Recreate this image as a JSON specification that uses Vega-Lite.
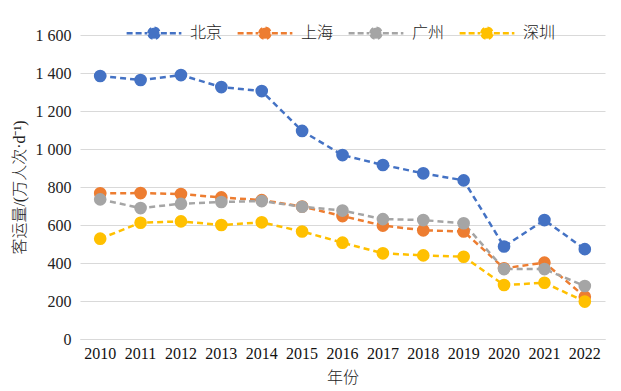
{
  "$schema": "https://vega.github.io/schema/vega-lite/v6.json",
  "width": 525,
  "height": 304,
  "autosize": "none",
  "padding": {"left": 80, "top": 35, "right": 16, "bottom": 52},
  "background": "white",
  "config": {"view": {"stroke": null}},
  "data": {
    "values": [
      {"year": "2010", "city": "北京", "v": 1384}, {"year": "2011", "city": "北京", "v": 1363}, {"year": "2012", "city": "北京", "v": 1389},
      {"year": "2013", "city": "北京", "v": 1326}, {"year": "2014", "city": "北京", "v": 1305}, {"year": "2015", "city": "北京", "v": 1095},
      {"year": "2016", "city": "北京", "v": 968}, {"year": "2017", "city": "北京", "v": 916}, {"year": "2018", "city": "北京", "v": 872},
      {"year": "2019", "city": "北京", "v": 835}, {"year": "2020", "city": "北京", "v": 487}, {"year": "2021", "city": "北京", "v": 626},
      {"year": "2022", "city": "北京", "v": 473},
      {"year": "2010", "city": "上海", "v": 767}, {"year": "2011", "city": "上海", "v": 768}, {"year": "2012", "city": "上海", "v": 763},
      {"year": "2013", "city": "上海", "v": 745}, {"year": "2014", "city": "上海", "v": 731}, {"year": "2015", "city": "上海", "v": 697},
      {"year": "2016", "city": "上海", "v": 647}, {"year": "2017", "city": "上海", "v": 597}, {"year": "2018", "city": "上海", "v": 572},
      {"year": "2019", "city": "上海", "v": 566}, {"year": "2020", "city": "上海", "v": 372}, {"year": "2021", "city": "上海", "v": 402},
      {"year": "2022", "city": "上海", "v": 223},
      {"year": "2010", "city": "广州", "v": 735}, {"year": "2011", "city": "广州", "v": 689}, {"year": "2012", "city": "广州", "v": 712},
      {"year": "2013", "city": "广州", "v": 721}, {"year": "2014", "city": "广州", "v": 726}, {"year": "2015", "city": "广州", "v": 696},
      {"year": "2016", "city": "广州", "v": 676}, {"year": "2017", "city": "广州", "v": 631}, {"year": "2018", "city": "广州", "v": 626},
      {"year": "2019", "city": "广州", "v": 609}, {"year": "2020", "city": "广州", "v": 368}, {"year": "2021", "city": "广州", "v": 368},
      {"year": "2022", "city": "广州", "v": 279},
      {"year": "2010", "city": "深圳", "v": 528}, {"year": "2011", "city": "深圳", "v": 612}, {"year": "2012", "city": "深圳", "v": 619},
      {"year": "2013", "city": "深圳", "v": 600}, {"year": "2014", "city": "深圳", "v": 614}, {"year": "2015", "city": "深圳", "v": 566},
      {"year": "2016", "city": "深圳", "v": 507}, {"year": "2017", "city": "深圳", "v": 451}, {"year": "2018", "city": "深圳", "v": 440},
      {"year": "2019", "city": "深圳", "v": 433}, {"year": "2020", "city": "深圳", "v": 284}, {"year": "2021", "city": "深圳", "v": 296},
      {"year": "2022", "city": "深圳", "v": 197}
    ]
  },
  "encoding": {
    "x": {
      "field": "year", "type": "ordinal", "title": "年份",
      "scale": {"type": "band", "paddingInner": 0, "paddingOuter": 0},
      "axis": {
        "labelAngle": 0, "labelFont": "serif", "labelFontSize": 16, "labelFontWeight": "normal", "labelColor": "#111",
        "titleFont": "Noto Sans CJK SC", "titleFontSize": 16, "titleFontWeight": 300, "titleColor": "#222",
        "titlePadding": 8, "ticks": false, "domainColor": "#d9d9d9", "domainWidth": 1, "labelPadding": 6, "grid": false
      }
    },
    "y": {
      "field": "v", "type": "quantitative",
      "title": "客运量/(万人次·d⁻¹)",
      "scale": {"domain": [0, 1600], "nice": false},
      "axis": {
        "values": [0, 200, 400, 600, 800, 1000, 1200, 1400, 1600],
        "labelExpr": "replace(format(datum.value, ','), ',', ' ')",
        "labelFont": "serif", "labelFontSize": 16, "labelFontWeight": "normal", "labelColor": "#222",
        "titleFont": "serif, Noto Sans CJK SC", "titleFontSize": 16, "titleFontWeight": 300, "titleColor": "#222",
        "titlePadding": 8, "ticks": false, "domain": false, "labelPadding": 9,
        "gridColor": "#d9d9d9", "gridWidth": 1
      }
    },
    "color": {
      "field": "city", "type": "nominal",
      "scale": {"domain": ["北京", "上海", "广州", "深圳"], "range": ["#4472C4", "#ED7D31", "#A5A5A5", "#FFC000"]},
      "legend": {
        "orient": "none", "legendX": 45, "legendY": -31, "direction": "horizontal", "title": null,
        "labelFont": "Noto Sans CJK SC", "labelFontSize": 16, "labelFontWeight": 300, "labelColor": "#222",
        "symbolType": "M-1,0 L-0.25,0 M0.25,0 L1,0 M-0.2,0 A0.2,0.2 0 1,1 0.2,0 A0.2,0.2 0 1,1 -0.2,0 Z",
        "symbolSize": 3000, "symbolStrokeWidth": 2.5, "symbolDash": [6, 3],
        "columnPadding": 9, "labelOffset": 7,
        "encode": {"symbols": {"update": {"fill": {"scale": "color", "field": "value"}, "fillOpacity": {"value": 1}}}}
      }
    }
  },
  "layer": [
    {"mark": {"type": "line", "strokeWidth": 2.5, "strokeDash": [6, 4]}},
    {"mark": {"type": "point", "filled": true, "size": 160, "opacity": 1}}
  ]
}
